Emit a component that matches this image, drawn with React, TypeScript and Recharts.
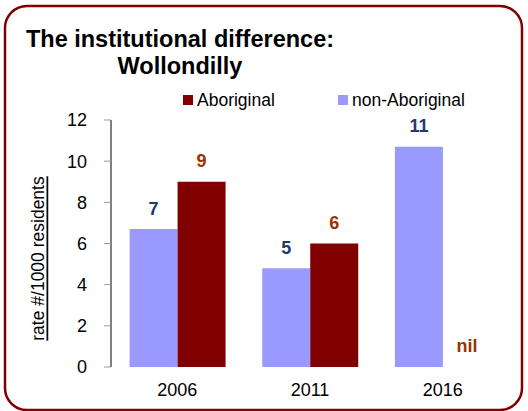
import React from 'react';
import { BarChart, Bar, XAxis, YAxis, Legend, LabelList, Label } from 'recharts';

const years = ['2006', '2011', '2016'];
const nonAboriginal = [6.7, 4.8, 10.7];
const aboriginal = [9.0, 6.0, 0];
const nonAboriginalLabels = ['7', '5', '11'];
const aboriginalLabels = ['9', '6', 'nil'];
const yTicks = [0, 2, 4, 6, 8, 10, 12];

const FONT = '"Liberation Sans", Arial, Helvetica, sans-serif';
const NON_COLOR = '#9999FF';
const AB_COLOR = '#800000';
const NON_LABEL = '#1F3A6E';
const AB_LABEL = '#993300';

const data = years.map((year, i) => ({
  year,
  nonAboriginal: nonAboriginal[i],
  aboriginal: aboriginal[i],
  nonLabel: nonAboriginalLabels[i],
  abLabel: aboriginalLabels[i],
}));

const makeBarLabel = (color: string) => (props: any) => {
  const vb = props.viewBox || {};
  const x = props.x ?? vb.x;
  const y = props.y ?? vb.y;
  const width = props.width ?? vb.width;
  const height = props.height ?? vb.height ?? 0;
  if (x == null || y == null || width == null) return null;
  const top = height < 0 ? y + height : y;
  return (
    <text
      x={x + width / 2}
      y={top - 14.5}
      textAnchor="middle"
      fill={color}
      fontFamily={FONT}
      fontWeight="bold"
      fontSize={18}
    >
      {props.value}
    </text>
  );
};

const YLabel = (props: any) => {
  const vb = props.viewBox || {};
  const cx = vb.x - 13.5;
  const cy = vb.y + vb.height / 2 + 15;
  return (
    <text
      x={cx}
      y={cy}
      transform={`rotate(-90 ${cx} ${cy})`}
      textAnchor="middle"
      dominantBaseline="central"
      fontFamily={FONT}
      fontSize={17.5}
      fill="#000"
      textDecoration="underline"
      style={{ textDecoration: 'underline' }}
    >
      rate #/1000 residents
    </text>
  );
};

const legendItems = [
  { text: 'Aboriginal', color: AB_COLOR, left: 183 },
  { text: 'non-Aboriginal', color: NON_COLOR, left: 338 },
];

const renderLegend = () => (
  <div style={{ position: 'relative', height: 20, fontFamily: FONT, fontSize: 17.5, lineHeight: '20px', color: '#000' }}>
    {legendItems.map((it) => (
      <div key={it.text} style={{ position: 'absolute', left: it.left, top: 0, whiteSpace: 'nowrap' }}>
        <span
          style={{
            position: 'absolute',
            left: 0,
            top: 5,
            width: 10,
            height: 10,
            background: it.color,
          }}
        />
        <span style={{ marginLeft: 14 }}>{it.text}</span>
      </div>
    ))}
  </div>
);

const zeroMinSize = (value: any) => (value === 0 ? 0.01 : 0);

export default function App() {
  return (
    <div style={{ position: 'fixed', left: 0, top: 0, width: 528, height: 411, background: '#fff', overflow: 'hidden' }}>
      <BarChart
        width={528}
        height={411}
        data={data}
        margin={{ top: 120, right: 19, bottom: 14, left: 51 }}
        barCategoryGap="14%"
        barGap={0}
      >
        <XAxis
          dataKey="year"
          axisLine={false}
          tickLine={false}
          tickSize={0}
          tickMargin={16}
          height={30}
          tick={{ fill: '#000', fontSize: 18, fontFamily: FONT }}
        />
        <YAxis
          width={60}
          domain={[0, 12]}
          ticks={yTicks}
          interval={0}
          tickSize={7}
          tickMargin={17}
          axisLine={{ stroke: '#000', strokeWidth: 1 }}
          tickLine={{ stroke: '#999', strokeWidth: 1 }}
          tick={{ fill: '#000', fontSize: 18, fontFamily: FONT }}
        >
          <Label content={<YLabel />} />
        </YAxis>
        <Legend
          layout="horizontal"
          verticalAlign="middle"
          align="center"
          content={renderLegend}
          wrapperStyle={{ top: 90, left: 0, width: 528, height: 20 }}
        />
        <Bar dataKey="nonAboriginal" name="non-Aboriginal" fill={NON_COLOR} isAnimationActive={false}>
          <LabelList dataKey="nonLabel" content={makeBarLabel(NON_LABEL)} />
        </Bar>
        <Bar
          dataKey="aboriginal"
          name="Aboriginal"
          fill={AB_COLOR}
          minPointSize={zeroMinSize}
          isAnimationActive={false}
        >
          <LabelList dataKey="abLabel" content={makeBarLabel(AB_LABEL)} />
        </Bar>
      </BarChart>
      <svg
        width={528}
        height={411}
        style={{ position: 'absolute', left: 0, top: 0, pointerEvents: 'none' }}
      >
        <rect x={5} y={6} width={517} height={404} rx={22} ry={22} fill="none" stroke="#7F0000" strokeWidth={2.5} />
        <text x={180} y={46.5} textAnchor="middle" fontFamily={FONT} fontWeight="bold" fontSize={23.5} fill="#000">
          The institutional difference:
        </text>
        <text x={180} y={74} textAnchor="middle" fontFamily={FONT} fontWeight="bold" fontSize={23.5} fill="#000">
          Wollondilly
        </text>
      </svg>
    </div>
  );
}
